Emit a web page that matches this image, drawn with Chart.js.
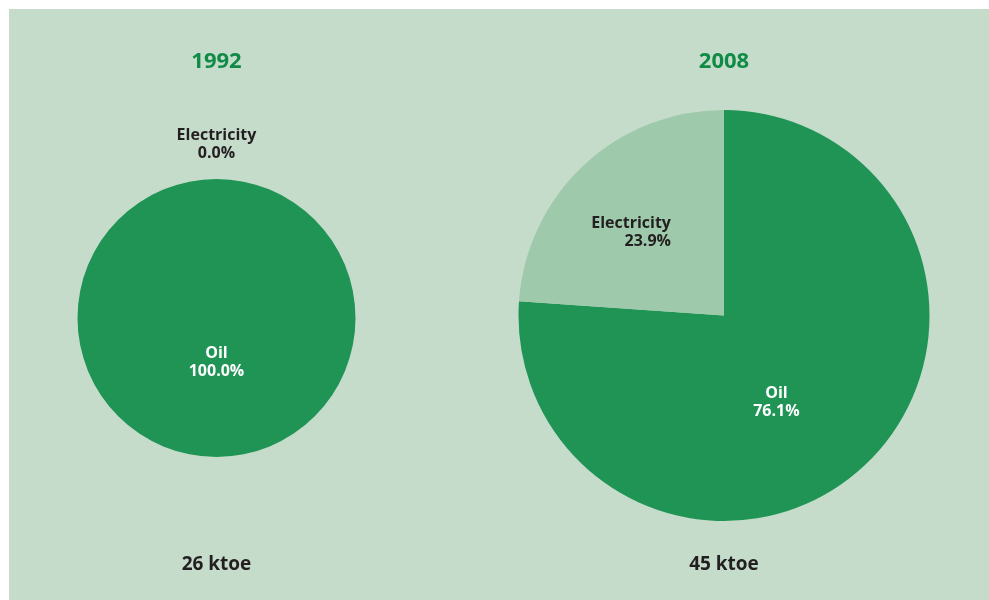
<!DOCTYPE html>
<html><head><meta charset="utf-8">
<script src="https://cdn.jsdelivr.net/npm/chart.js@4"></script>
<style>
html,body{margin:0;padding:0;background:#fff;width:989px;height:600px;overflow:hidden}
#panel{position:absolute;left:9px;top:9px;width:980px;height:591px;background:#c5dccb}
canvas{position:absolute}
</style></head><body>
<div id="panel"></div>
<canvas id="c1" width="415" height="591" style="left:9px;top:9px"></canvas>
<canvas id="c2" width="528" height="591" style="left:460px;top:9px"></canvas>
<script>
const categories = ['Oil', 'Electricity'];
const years = ['1992', '2008'];
const values1992 = [100.0, 0.0];
const values2008 = [76.1, 23.9];
const totals = ['26 ktoe', '45 ktoe'];

const sliceColors = ['#1f9455', '#9ec9ab'];
const titleColor = '#108b45';
const darkText = '#231f20';
const FONT = '"Open Sans"';

const sliceLabels = {
  id: 'sliceLabels',
  afterDatasetsDraw(chart, args, opts) {
    const ctx = chart.ctx;
    const meta = chart.getDatasetMeta(0);
    const data = chart.data.datasets[0].data;
    meta.data.forEach((arc, i) => {
      const p = arc.getProps(['x', 'y', 'startAngle', 'endAngle', 'outerRadius'], true);
      const pl = opts.place[i];
      const mid = (p.startAngle + p.endAngle) / 2 + pl.shift * Math.PI / 180;
      const r = p.outerRadius * pl.r;
      const x = p.x + Math.cos(mid) * r;
      const y = p.y + Math.sin(mid) * r;
      ctx.save();
      ctx.font = 'bold 16px ' + FONT;
      ctx.fillStyle = pl.color;
      ctx.textAlign = pl.align;
      ctx.textBaseline = 'middle';
      ctx.fillText(chart.data.labels[i], x, y - 9);
      ctx.fillText(data[i].toFixed(1) + '%', x, y + 9);
      ctx.restore();
    });
  }
};

function makePie(id, year, values, total, gapTop, gapBottom, place) {
  return new Chart(document.getElementById(id), {
    type: 'pie',
    data: {
      labels: categories,
      datasets: [{ data: values, backgroundColor: sliceColors, borderWidth: 0, hoverOffset: 0 }]
    },
    options: {
      responsive: false,
      animation: false,
      devicePixelRatio: 1,
      layout: { padding: 0 },
      events: [],
      plugins: {
        legend: { display: false },
        tooltip: { enabled: false },
        title: {
          display: true, text: year, color: titleColor,
          font: { family: FONT, size: 22, weight: 'bold', lineHeight: 1.2 },
          padding: { top: 39.8, bottom: gapTop }
        },
        subtitle: {
          display: true, text: total, position: 'bottom', color: darkText,
          font: { family: FONT, size: 19, weight: 'bold', lineHeight: 1.2 },
          padding: { top: gapBottom, bottom: 23.6 }
        },
        sliceLabels: { place }
      }
    },
    plugins: [sliceLabels]
  });
}

makePie('c1', years[0], values1992, totals[0], 103.8, 96.6, [
  { r: 0.32, shift: 0, align: 'center', color: '#ffffff' },
  { r: 1.25, shift: 0, align: 'center', color: darkText }
]);
makePie('c2', years[1], values2008, totals[1], 34.8, 32.6, [
  { r: 0.495, shift: 12, align: 'center', color: '#ffffff' },
  { r: 0.48, shift: 10.5, align: 'right', color: darkText }
]);
</script>
</body></html>
